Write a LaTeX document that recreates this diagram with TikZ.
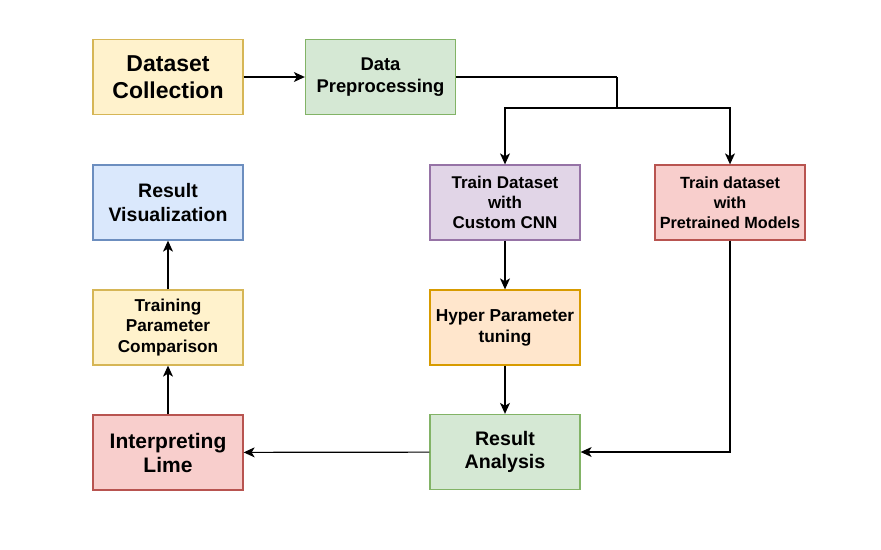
\documentclass[tikz,border=0pt]{standalone}
\usepackage{fontspec}
\setmainfont{Liberation Sans}
\usetikzlibrary{arrows.meta}
\definecolor{yfill}{HTML}{FFF2CC}\definecolor{ydraw}{HTML}{D6B656}
\definecolor{gfill}{HTML}{D5E8D4}\definecolor{gdraw}{HTML}{82B366}
\definecolor{bfill}{HTML}{DAE8FC}\definecolor{bdraw}{HTML}{6C8EBF}
\definecolor{pfill}{HTML}{E1D5E7}\definecolor{pdraw}{HTML}{9673A6}
\definecolor{rfill}{HTML}{F8CECC}\definecolor{rdraw}{HTML}{B85450}
\definecolor{ofill}{HTML}{FFE6CC}\definecolor{odraw}{HTML}{D79B00}
\begin{document}
\begin{tikzpicture}[x=1pt,y=-1pt,
  box/.style={draw, line width=1.3pt, minimum width=150pt, minimum height=75pt,
    align=center, inner sep=0pt},
  ybox/.style={box, fill=yfill, draw=ydraw},
  gbox/.style={box, fill=gfill, draw=gdraw},
  bbox/.style={box, fill=bfill, draw=bdraw},
  pbox/.style={box, fill=pfill, draw=pdraw},
  rbox/.style={box, fill=rfill, draw=rdraw},
  obox/.style={box, fill=ofill, draw=odraw},
  conn/.style={line width=1.2pt, -{Stealth[length=11pt,width=10pt,inset=3pt]}},
  thin/.style={line width=1.2pt},
  thick/.style={line width=2.6pt}]
\useasboundingbox (0,0) rectangle (881,549);
\node[ybox, font=\bfseries\fontsize{23}{27.6}\selectfont] (dc) at (168,77) {Dataset\\Collection};
\node[gbox, font=\bfseries\fontsize{18.4}{22}\selectfont] (dp) at (380.5,77) {Data\\Preprocessing};
\node[bbox, font=\bfseries\fontsize{19.5}{23.4}\selectfont] (rv) at (168,202.5) {Result\\Visualization};
\node[pbox, font=\bfseries\fontsize{17}{20.4}\selectfont] (tc) at (505,202.5) {Train Dataset\\with\\Custom CNN};
\node[rbox, font=\bfseries\fontsize{16.2}{20}\selectfont] (tp) at (730,202.5) {Train dataset\\with\\Pretrained Models};
\node[ybox, font=\bfseries\fontsize{17.2}{20.6}\selectfont] (tpc) at (168,327.5) {Training\\Parameter\\Comparison};
\node[obox, font=\bfseries\fontsize{17.3}{21}\selectfont] (hp) at (505,327.5) {Hyper Parameter\\tuning};
\node[rbox, font=\bfseries\fontsize{21}{24}\selectfont] (il) at (168,452.5) {Interpreting\\Lime};
\node[gbox, font=\bfseries\fontsize{19.6}{23}\selectfont] (ra) at (505,452) {Result\\Analysis};
% fork
\coordinate (f0) at (617,77);
\coordinate (f1) at (617,108);
\coordinate (fl) at (505,108);
\coordinate (fr) at (730,108);
\coordinate (fl2) at (505,138);
\coordinate (fr2) at (730,138);
\coordinate (tpc2) at (730,452);
\draw[conn] (dc) -- (dp);
\draw[thin] (dp.east) -- (f0);
\draw[thick] (f0) -- (f1);
\draw[thick] (fl2) -- (fl) -- (fr) -- (fr2);
\draw[conn] (fl2) -- (tc.north);
\draw[conn] (fr2) -- (tp.north);
\draw[conn] (tc) -- (hp);
\draw[conn] (hp) -- (ra);
\draw[conn] (tp.south) -- (tpc2) -- (ra.east);
\draw[conn] (ra) -- (il);
\draw[conn] (il) -- (tpc);
\draw[conn] (tpc) -- (rv);
\end{tikzpicture}
\end{document}
